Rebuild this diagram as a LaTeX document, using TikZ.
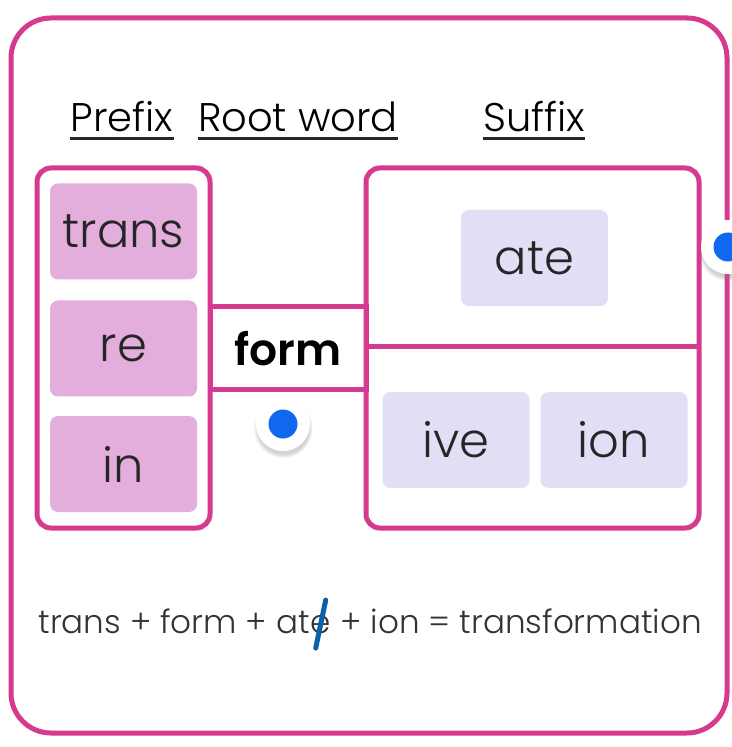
\documentclass[tikz,border=0pt]{standalone}
\usepackage{fontspec}
\setmainfont{Poppins Light}[BoldFont={Poppins SemiBold}]
\usetikzlibrary{shadows}
\definecolor{rim}{RGB}{214,58,142}
\definecolor{pretile}{RGB}{228,174,220}
\definecolor{suftile}{RGB}{226,222,246}
\definecolor{knob}{RGB}{16,104,240}
\definecolor{strike}{RGB}{12,96,170}
\tikzset{
	frame/.style={draw=rim,line width=2.5pt,rounded corners=7pt},
	tile/.style={rounded corners=4pt,minimum width=73.5pt,minimum height=48pt,text=black!85,
		font=\fontsize{24}{24}\selectfont},
	pre/.style={tile,fill=pretile},
	suf/.style={tile,fill=suftile},
	head/.style={inner sep=0pt,anchor=base,font=\fontsize{20}{20}\selectfont},
	eq/.style={inner sep=0pt,anchor=base west,text=black!80,font=\fontsize{16.3}{16.3}\selectfont},
	ring/.style={circle,fill=white,minimum size=27pt,inner sep=0pt,
		circular drop shadow={opacity=.35,shadow scale=1.1,shadow xshift=0pt,shadow yshift=-2pt}},
	dot/.style={circle,fill=knob,minimum size=14.5pt,inner sep=0pt}
}
\begin{document}
\begin{tikzpicture}[x=0.5pt,y=-0.5pt]
			\useasboundingbox(0,0)rectangle(731,747);
			\draw[frame,rounded corners=20pt](11,18)rectangle(727,733);
			% headings
			\node[head](hpre)at(122,132){Prefix};
			\node[head](hroot)at(298,132){Root word};
			\node[head](hsuf)at(534,132){Suffix};
			\foreach \h in {hpre,hroot,hsuf}
				\draw[line width=1.5pt,black!85]([yshift=-3pt]\h.south west)--([yshift=-3pt]\h.south east);
			% boxes
			\node[draw=rim,line width=2.5pt,minimum width=78pt,minimum height=41.5pt,
				font=\bfseries\fontsize{22}{22}\selectfont](form)at(288,348.5){form};
			\draw[frame](37,168)rectangle(210,528);
			\draw[frame](366,168)rectangle(699,528);
			\draw[draw=rim,line width=2.5pt](366,347)coordinate(s1)--(699,347)coordinate(s2);
			% tiles
			\node[pre](trans)at(123.5,231.5){trans};
			\node[pre](re)at(123.5,348.5){re};
			\node[pre](in)at(123.5,464){in};
			\node[suf](ate)at(534.5,258){ate};
			\node[suf](ive)at(456,440){ive};
			\node[suf](ion)at(614,440){ion};
			% word sum
			\node[eq](eqa)at(38,633){trans + form + at};
			\node[eq](eqe)at(eqa.base east){e};
			\node[eq](eqb)at(eqe.base east){\ + ion = transformation};
			\draw[strike,line width=2.5pt,line cap=round]([shift={(5,-24)}]eqe.center)--([shift={(-5,24)}]eqe.center);
			% handles
			\node[ring](grip1)at(283,424){};
			\node[dot]at(grip1){};
			\node[ring](grip2)at(728,247){};
			\node[dot]at(grip2){};
		\end{tikzpicture}
\end{document}
